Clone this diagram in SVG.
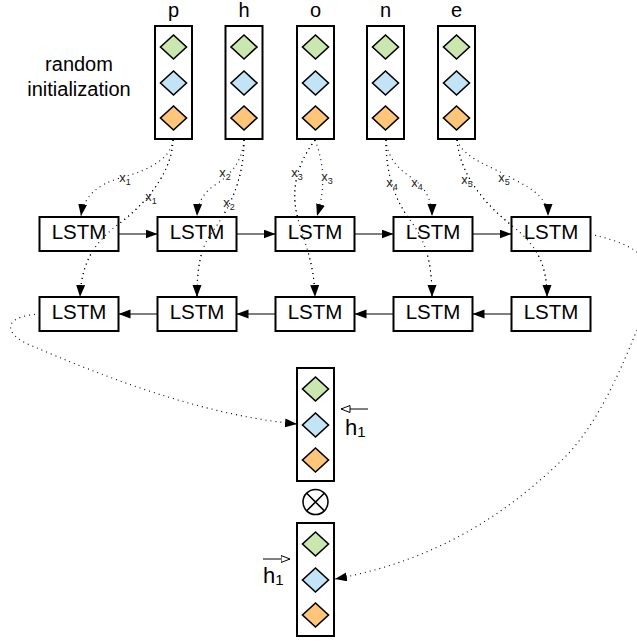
<svg xmlns="http://www.w3.org/2000/svg" width="637" height="641" viewBox="0 0 637 641">
<defs>
<style>
.box{fill:#fff;stroke:#000;stroke-width:2}
.g{fill:#c9e7ae;stroke:#000;stroke-width:1.6}
.b{fill:#c3e4f7;stroke:#000;stroke-width:1.6}
.o{fill:#ffc679;stroke:#000;stroke-width:1.6}
.t{font-family:"Liberation Sans",Arial,sans-serif;fill:#000}
.lstm{font-size:20.5px;text-anchor:middle}
.lbl{font-family:"Liberation Sans",Arial,sans-serif;font-size:13px;fill:#222;text-anchor:middle;stroke:#fff;stroke-width:3;paint-order:stroke;stroke-linejoin:round}
.solid{fill:none;stroke:#000;stroke-width:1}
.dot{fill:none;stroke:#000;stroke-width:1.1;stroke-dasharray:1 4}
</style>
<marker id="arr" markerUnits="userSpaceOnUse" markerWidth="13" markerHeight="10" refX="12" refY="4.5" orient="auto">
<path d="M0,0 L12,4.5 L0,9 z" fill="#000"/>
</marker>
<marker id="open" markerUnits="userSpaceOnUse" markerWidth="11" markerHeight="9" refX="9.5" refY="4" orient="auto">
<path d="M0.5,0.5 L9.5,4 L0.5,7.5 z" fill="#fff" stroke="#000" stroke-width="1"/>
</marker>
<g id="vec">
<rect class="box" x="0" y="0" width="37" height="113"/>
<path class="g" d="M18.5,9 L31.5,21 L18.5,33 L5.5,21 z"/>
<path class="b" d="M18.5,45 L31.5,57 L18.5,69 L5.5,57 z"/>
<path class="o" d="M18.5,80 L31.5,92 L18.5,104 L5.5,92 z"/>
</g>
</defs>
<rect width="637" height="641" fill="#fff"/>

<g id="label-random">
<text class="t" x="79" y="71" font-size="20" text-anchor="middle">random</text>
<text class="t" x="79" y="96" font-size="20" text-anchor="middle">initialization</text>
</g>

<g id="vec-p"><use href="#vec" x="155" y="26"/><text class="t" x="173.5" y="16.5" font-size="20" text-anchor="middle">p</text></g>
<g id="vec-h"><use href="#vec" x="225.5" y="26"/><text class="t" x="244" y="16.5" font-size="20" text-anchor="middle">h</text></g>
<g id="vec-o"><use href="#vec" x="297" y="26"/><text class="t" x="315.5" y="16.5" font-size="20" text-anchor="middle">o</text></g>
<g id="vec-n"><use href="#vec" x="367" y="26"/><text class="t" x="385.5" y="16.5" font-size="20" text-anchor="middle">n</text></g>
<g id="vec-e"><use href="#vec" x="438" y="26"/><text class="t" x="456.5" y="16.5" font-size="20" text-anchor="middle">e</text></g>

<g id="connectors">
<line class="solid" x1="118.5" y1="234" x2="157.5" y2="234" marker-end="url(#arr)"/>
<line class="solid" x1="236.5" y1="234" x2="275.5" y2="234" marker-end="url(#arr)"/>
<line class="solid" x1="354.5" y1="234" x2="393.5" y2="234" marker-end="url(#arr)"/>
<line class="solid" x1="472.5" y1="234" x2="511.5" y2="234" marker-end="url(#arr)"/>
<line class="solid" x1="157.5" y1="314" x2="118.5" y2="314" marker-end="url(#arr)"/>
<line class="solid" x1="275.5" y1="314" x2="236.5" y2="314" marker-end="url(#arr)"/>
<line class="solid" x1="393.5" y1="314" x2="354.5" y2="314" marker-end="url(#arr)"/>
<line class="solid" x1="511.5" y1="314" x2="472.5" y2="314" marker-end="url(#arr)"/>
<path class="dot" d="M173,140 Q170,165 120,178 Q85,188 81,216" marker-end="url(#arr)"/>
<path class="dot" d="M173,140 C172,170 150,200 120,223 C95,242 82,260 80,297" marker-end="url(#arr)"/>
<path class="dot" d="M244,140 Q242,168 215,185 Q198,196 197,216" marker-end="url(#arr)"/>
<path class="dot" d="M244,140 C244,185 225,215 210,235 C200,250 197,270 197,297" marker-end="url(#arr)"/>
<path class="dot" d="M315,140 C300,160 290,185 297,215 C303,240 314,260 315,297" marker-end="url(#arr)"/>
<path class="dot" d="M315,140 C325,165 325,190 317,216" marker-end="url(#arr)"/>
<path class="dot" d="M386,140 C386,175 395,200 410,220 C425,240 432,260 432,297" marker-end="url(#arr)"/>
<path class="dot" d="M386,140 C388,160 400,170 412,178 C425,187 432,200 432,216" marker-end="url(#arr)"/>
<path class="dot" d="M457,140 C460,175 485,205 515,228 C535,245 547,262 547,297" marker-end="url(#arr)"/>
<path class="dot" d="M457,140 C465,160 490,165 515,180 C535,190 548,200 548,216" marker-end="url(#arr)"/>
<path class="dot" d="M40,314 C0,316 5,335 30,345 C100,375 200,415 297,424" marker-end="url(#arr)"/>
<path class="dot" d="M590,234 C650,248 665,265 637,330 C625,358 600,425 560,462 C510,510 440,560 335,579" marker-end="url(#arr)"/>
<text class="lbl" x="125" y="182">x<tspan font-size="9" dy="3">1</tspan></text>
<text class="lbl" x="151" y="201">x<tspan font-size="9" dy="3">1</tspan></text>
<text class="lbl" x="225" y="177">x<tspan font-size="9" dy="3">2</tspan></text>
<text class="lbl" x="229" y="207">x<tspan font-size="9" dy="3">2</tspan></text>
<text class="lbl" x="297" y="177">x<tspan font-size="9" dy="3">3</tspan></text>
<text class="lbl" x="327" y="181">x<tspan font-size="9" dy="3">3</tspan></text>
<text class="lbl" x="392" y="187">x<tspan font-size="9" dy="3">4</tspan></text>
<text class="lbl" x="417" y="187">x<tspan font-size="9" dy="3">4</tspan></text>
<text class="lbl" x="467" y="184">x<tspan font-size="9" dy="3">5</tspan></text>
<text class="lbl" x="504" y="182">x<tspan font-size="9" dy="3">5</tspan></text>
</g>

<g id="lstm-f1"><rect class="box" x="39.5" y="217" width="79" height="34"/><text class="t lstm" x="79" y="238.5">LSTM</text></g>
<g id="lstm-f2"><rect class="box" x="157.5" y="217" width="79" height="34"/><text class="t lstm" x="197" y="238.5">LSTM</text></g>
<g id="lstm-f3"><rect class="box" x="275.5" y="217" width="79" height="34"/><text class="t lstm" x="315" y="238.5">LSTM</text></g>
<g id="lstm-f4"><rect class="box" x="393.5" y="217" width="79" height="34"/><text class="t lstm" x="433" y="238.5">LSTM</text></g>
<g id="lstm-f5"><rect class="box" x="511.5" y="217" width="79" height="34"/><text class="t lstm" x="551" y="238.5">LSTM</text></g>
<g id="lstm-b1"><rect class="box" x="39.5" y="297" width="79" height="34"/><text class="t lstm" x="79" y="319">LSTM</text></g>
<g id="lstm-b2"><rect class="box" x="157.5" y="297" width="79" height="34"/><text class="t lstm" x="197" y="319">LSTM</text></g>
<g id="lstm-b3"><rect class="box" x="275.5" y="297" width="79" height="34"/><text class="t lstm" x="315" y="319">LSTM</text></g>
<g id="lstm-b4"><rect class="box" x="393.5" y="297" width="79" height="34"/><text class="t lstm" x="433" y="319">LSTM</text></g>
<g id="lstm-b5"><rect class="box" x="511.5" y="297" width="79" height="34"/><text class="t lstm" x="551" y="319">LSTM</text></g>

<g id="connectors-over">
<path class="dot" d="M173,140 C172,170 150,200 120,223 C95,242 82,260 80,297"/>
<path class="dot" d="M244,140 C244,185 225,215 210,235 C200,250 197,270 197,297"/>
<path class="dot" d="M315,140 C300,160 290,185 297,215 C303,240 314,260 315,297"/>
<path class="dot" d="M386,140 C386,175 395,200 410,220 C425,240 432,260 432,297"/>
<path class="dot" d="M457,140 C460,175 485,205 515,228 C535,245 547,262 547,297"/>
</g>

<g id="vec-backward">
<use href="#vec" x="297" y="368"/>
<line class="solid" x1="368" y1="409" x2="341" y2="409" marker-end="url(#open)"/>
<text class="t" x="345" y="435" font-size="22">h<tspan font-size="15" dy="2">1</tspan></text>
</g>

<g id="op-mult">
<circle cx="315.5" cy="502" r="12.5" fill="#fff" stroke="#000" stroke-width="1.6"/>
<path d="M306.7,493.2 L324.3,510.8 M324.3,493.2 L306.7,510.8" stroke="#000" stroke-width="1.6"/>
</g>

<g id="vec-forward">
<use href="#vec" x="297" y="523"/>
<line class="solid" x1="263" y1="559" x2="290" y2="559" marker-end="url(#open)"/>
<text class="t" x="263" y="583" font-size="22">h<tspan font-size="15" dy="2">1</tspan></text>
</g>
</svg>
